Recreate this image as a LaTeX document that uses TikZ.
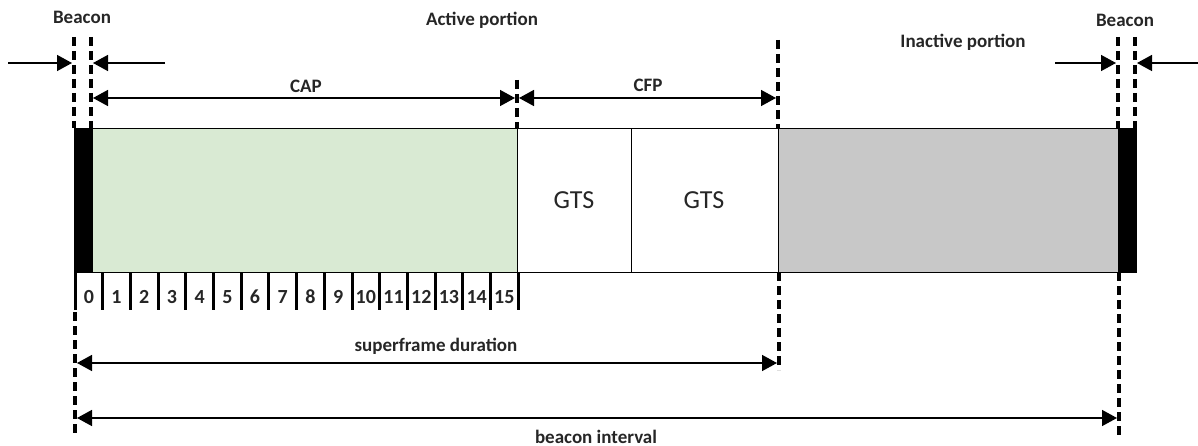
\documentclass[tikz,border=0pt]{standalone}
\usepackage{fontspec}
\setmainfont{Carlito}
\usetikzlibrary{arrows.meta}
\definecolor{capgreen}{HTML}{D9EAD3}
\definecolor{inactgray}{HTML}{C8C8C8}
\definecolor{txt}{HTML}{262626}
\begin{document}
\begin{tikzpicture}[x=1pt,y=-1pt,
  lbl/.style={font=\bfseries\fontsize{19}{22}\selectfont, text=txt, inner sep=0pt},
  num/.style={font=\bfseries\fontsize{20}{22}\selectfont, text=txt, inner sep=0pt},
  gts/.style={font=\fontsize{26}{30}\selectfont, text=txt},
  dline/.style={line width=3.2pt, dash pattern=on 9pt off 5pt},
  arr/.style={line width=1.5pt, -{Triangle[length=15pt,width=16pt]}},
  darr/.style={line width=1.5pt, {Triangle[length=15pt,width=16pt]}-{Triangle[length=15pt,width=16pt]}},
  seg/.style={draw, line width=1.2pt, inner sep=0pt, anchor=north west, minimum height=144pt},
  slottick/.style={line width=3pt}]
\useasboundingbox (0,0) rectangle (1198,446);
% bar segments
\node[seg, fill=black, minimum width=18pt] (bcnL) at (74,128) {};
\node[seg, fill=capgreen, minimum width=425pt] (cap) at (92,128) {};
\node[seg, fill=white, minimum width=114pt] (gts1) at (517,128) {};
\node[seg, fill=white, minimum width=147pt] (gts2) at (631,128) {};
\node[seg, fill=inactgray, minimum width=340pt] (inact) at (778,128) {};
\node[seg, fill=black, minimum width=18pt] (bcnR) at (1118,128) {};
\node[gts] (g1) at (574,200) {GTS};
\node[gts] (g2) at (704,200) {GTS};
% slots
\foreach \i in {0,...,16} {
  \coordinate (t\i a) at ({75+\i*27.7},272);
  \coordinate (t\i b) at ({75+\i*27.7},310);
  \draw[slottick] (t\i a) -- (t\i b);
}
\foreach \i in {0,...,15} {
  \node[num] (n\i) at ({75+(\i+0.5)*27.7},297) {\i};
}
% dashed guides
\coordinate (d1t) at (74,37);   \coordinate (d1b) at (74,128);
\coordinate (d1c) at (75,312);  \coordinate (d1d) at (75,437);
\coordinate (d2t) at (91,37);   \coordinate (d2b) at (91,128);
\coordinate (d3t) at (517,80);  \coordinate (d3b) at (517,128);
\coordinate (d4t) at (778,40);  \coordinate (d4b) at (778,128);
\coordinate (d4c) at (779,272); \coordinate (d4d) at (779,370);
\coordinate (d5t) at (1118,37); \coordinate (d5b) at (1118,128);
\coordinate (d5c) at (1119,272);\coordinate (d5d) at (1119,436);
\coordinate (d6t) at (1135,37); \coordinate (d6b) at (1135,128);
\foreach \p in {d1,d2,d3,d4,d5,d6} \draw[dline] (\p t) -- (\p b);
\draw[dline] (d1c) -- (d1d);
\draw[dline] (d4c) -- (d4d);
\draw[dline] (d5c) -- (d5d);
% beacon arrows
\coordinate (a1) at (8,63);    \coordinate (a1e) at (72,63);
\coordinate (a2) at (165,63);  \coordinate (a2e) at (93,63);
\coordinate (a3) at (1055,63); \coordinate (a3e) at (1116,63);
\coordinate (a4) at (1198,63); \coordinate (a4e) at (1137,63);
\draw[arr] (a1) -- (a1e);
\draw[arr] (a2) -- (a2e);
\draw[arr] (a3) -- (a3e);
\draw[arr] (a4) -- (a4e);
% span arrows
\coordinate (capL) at (93,98);  \coordinate (capR) at (515,98);
\coordinate (cfpL) at (519,98); \coordinate (cfpR) at (776,98);
\coordinate (sfL) at (77,363);  \coordinate (sfR) at (777,363);
\coordinate (biL) at (77,418);  \coordinate (biR) at (1117,418);
\draw[darr] (capL) -- (capR);
\draw[darr] (cfpL) -- (cfpR);
\draw[darr] (sfL) -- (sfR);
\draw[darr] (biL) -- (biR);
% labels
\node[lbl] (lb1) at (82,17) {Beacon};
\node[lbl] (lact) at (482,20) {Active portion};
\node[lbl] (lcap) at (306,86) {CAP};
\node[lbl] (lcfp) at (648,85) {CFP};
\node[lbl] (linact) at (963,42) {Inactive portion};
\node[lbl] (lb2) at (1125,20) {Beacon};
\node[lbl] (lsf) at (436,346) {superframe duration};
\node[lbl] (lbi) at (596,437) {beacon interval};
\end{tikzpicture}
\end{document}
